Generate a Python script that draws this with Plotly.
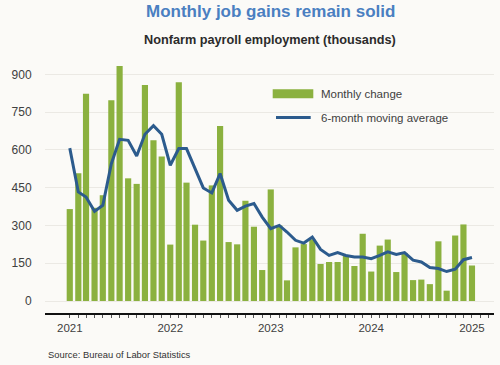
import pandas as pd
import plotly.graph_objects as go

# ---- data ----
months = pd.date_range("2021-01-01", "2025-01-01", freq="MS")
monthly_change = [365, 507, 823, 370, 420, 797, 933, 487, 465, 858, 638, 574,
                  224, 869, 470, 303, 240, 459, 695, 234, 225, 398, 295, 123,
                  443, 300, 82, 213, 226, 245, 147, 155, 155, 181, 139, 267,
                  117, 220, 244, 115, 191, 83, 85, 67, 237, 41, 260, 304,
                  141]
moving_avg = [607, 433, 413, 356, 380, 545, 642, 638, 576, 662, 696, 662,
              539, 605, 605, 526, 449, 429, 506, 400, 360, 377, 387, 333,
              287, 300, 274, 241, 230, 254, 205, 181, 192, 181, 175, 175,
              168, 181, 195, 185, 192, 162, 155, 133, 129, 117, 126, 164,
              173]
tick_months = pd.date_range("2021-01-01", "2025-03-01", freq="MS")
tick_text = [str(d.year) if d.month == 1 else "" for d in tick_months]
y_ticks = [0, 150, 300, 450, 600, 750, 900]

BG = "#fbfaf7"
GREEN = "#8bb13f"
BLUE = "#2c5b8d"
TXT = "#404040"

W, H = 500, 365
L, R, T, B = 45, 6, 62, 52
pw, ph = W - L - R, H - T - B


def px(x):
    return (x - L) / pw


def py(y):
    return (H - B - y) / ph


fig = go.Figure()
fig.add_trace(go.Bar(x=months, y=monthly_change, marker_color=GREEN,
                     marker_line_width=0, name="Monthly change",
                     showlegend=False))
fig.add_trace(go.Scatter(x=months, y=moving_avg, mode="lines",
                         line=dict(color=BLUE, width=3),
                         name="6-month moving average", showlegend=False))

fig.update_layout(
    width=W, height=H,
    margin=dict(l=L, r=R, t=T, b=B, autoexpand=False),
    paper_bgcolor=BG, plot_bgcolor=BG,
    bargap=0.2,
    font=dict(family="Liberation Sans, Arial, sans-serif", color=TXT),
)
fig.update_xaxes(
    type="date",
    range=["2020-10-03", "2025-03-22"],
    tickvals=tick_months, ticktext=tick_text,
    ticks="outside", ticklen=3, tickwidth=1, tickcolor="#555555",
    showline=True, linecolor="#111111", linewidth=2,
    showgrid=False, tickfont=dict(size=11.5, color=TXT),
    automargin=False,
)
fig.update_yaxes(
    range=[-47.6, 948.9],
    tickvals=y_ticks,
    showgrid=True, gridcolor="#ebe9e4", gridwidth=1,
    zeroline=False, showline=False,
    ticks="outside", ticklen=10, tickcolor="rgba(0,0,0,0)",
    tickfont=dict(size=12, color=TXT),
    automargin=False,
)

# legend (custom)
fig.add_shape(type="rect", xref="paper", yref="paper",
              x0=px(272.7), x1=px(313.3), y0=py(98.3), y1=py(89.3),
              fillcolor=GREEN, line_width=0)
fig.add_shape(type="line", xref="paper", yref="paper",
              x0=px(276), x1=px(310.7), y0=py(117.5), y1=py(117.5),
              line=dict(color=BLUE, width=3))
fig.add_annotation(xref="paper", yref="paper", x=px(319), y=py(94),
                   text="Monthly change", showarrow=False,
                   xanchor="left", yanchor="middle",
                   font=dict(size=11.5, color=TXT))
fig.add_annotation(xref="paper", yref="paper", x=px(319), y=py(118),
                   text="6-month moving average", showarrow=False,
                   xanchor="left", yanchor="middle",
                   font=dict(size=11.5, color=TXT))

# titles and source
fig.add_annotation(xref="paper", yref="paper", x=px(270), y=py(12),
                   text="<b>Monthly job gains remain solid</b>",
                   showarrow=False, xanchor="center", yanchor="middle",
                   font=dict(size=17, color="#4a7fc1"))
fig.add_annotation(xref="paper", yref="paper", x=px(270), y=py(39.5),
                   text="<b>Nonfarm payroll employment (thousands)</b>",
                   showarrow=False, xanchor="center", yanchor="middle",
                   font=dict(size=12.7, color="#2b2b2b"))
fig.add_annotation(xref="paper", yref="paper", x=px(45.5), y=py(354),
                   text="Source: Bureau of Labor Statistics",
                   showarrow=False, xanchor="left", yanchor="middle",
                   font=dict(size=9.4, color="#333333"))

fig.write_html("out.html",
               config={"displayModeBar": False},
               post_script="document.body.style.margin='0';")
